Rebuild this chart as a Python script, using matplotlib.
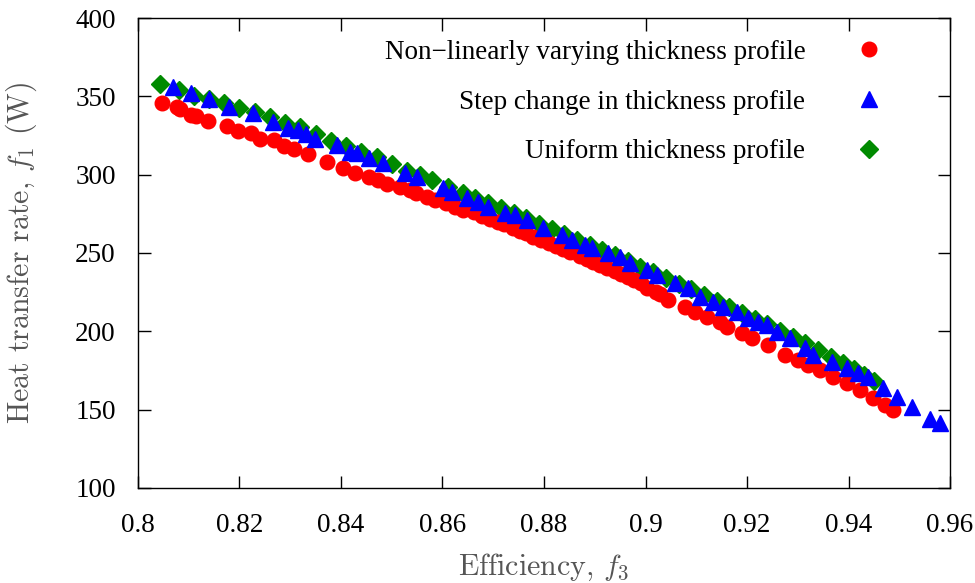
import matplotlib
matplotlib.use("Agg")
import matplotlib.pyplot as plt
from matplotlib.lines import Line2D

# Non-linearly varying thickness profile
red_x = [0.80473, 0.80768, 0.80828, 0.81044, 0.81143, 0.81379, 0.81754, 0.81970, 0.82227, 0.82404,
         0.82680, 0.82877, 0.83074, 0.83350, 0.83724, 0.84039, 0.84276, 0.84552, 0.84729, 0.84906,
         0.85163, 0.85360, 0.85478, 0.85695, 0.85852, 0.86069, 0.86246, 0.86404, 0.86621, 0.86778,
         0.86936, 0.87094, 0.87212, 0.87389, 0.87527, 0.87645, 0.87783, 0.87941, 0.88098, 0.88236,
         0.88374, 0.88512, 0.88709, 0.88847, 0.88966, 0.89103, 0.89241, 0.89399, 0.89517, 0.89655,
         0.89773, 0.89911, 0.90030, 0.90207, 0.90286, 0.90443, 0.90778, 0.90975, 0.91212, 0.91468,
         0.91606, 0.91901, 0.92099, 0.92414, 0.92749, 0.93005, 0.93202, 0.93439, 0.93695, 0.93970,
         0.94227, 0.94483, 0.94719, 0.94877]
red_y = [345.7, 343.1, 341.9, 338.1, 337.4, 334.3, 330.9, 327.9, 326.6, 322.8,
         322.1, 318.3, 316.4, 313.2, 308.1, 304.3, 301.1, 298.5, 296.6, 294.0,
         292.1, 290.2, 288.3, 285.7, 283.8, 281.9, 279.4, 277.4, 276.2, 273.6,
         271.7, 269.8, 268.5, 266.0, 264.0, 262.8, 260.2, 258.3, 256.4, 254.5,
         252.6, 250.6, 248.1, 246.2, 244.3, 242.3, 240.4, 238.5, 236.6, 234.7,
         232.8, 230.9, 227.7, 225.1, 223.8, 220.0, 215.5, 212.3, 209.1, 206.0,
         202.8, 198.9, 195.7, 191.3, 184.9, 181.7, 178.5, 175.3, 170.9, 167.0,
         162.6, 157.4, 153.0, 149.8]

# Step change in thickness profile
blue_x = [0.80683, 0.81044, 0.81405, 0.81793, 0.82260, 0.82654, 0.82962, 0.83147, 0.83310, 0.83488,
          0.83927, 0.84177, 0.84309, 0.84558, 0.84833, 0.85261, 0.85492, 0.86016, 0.86181, 0.86477,
          0.86705, 0.86902, 0.87231, 0.87429, 0.87659, 0.87986, 0.88349, 0.88546, 0.88808, 0.88940,
          0.89267, 0.89498, 0.89695, 0.90024, 0.90221, 0.90581, 0.90843, 0.91074, 0.91336, 0.91533,
          0.91797, 0.92026, 0.92223, 0.92388, 0.92585, 0.92847, 0.93143, 0.93306, 0.93669, 0.93964,
          0.94193, 0.94390, 0.94686, 0.94950, 0.95245, 0.95606, 0.95803]
blue_y = [356.2, 351.9, 348.1, 343.4, 339.6, 333.8, 329.6, 328.5, 326.0, 322.8,
          319.0, 314.7, 313.6, 310.4, 307.3, 300.9, 298.7, 291.3, 289.1, 284.9,
          282.7, 279.6, 275.3, 274.3, 271.1, 265.8, 261.5, 258.3, 255.1, 253.0,
          249.8, 247.6, 243.4, 239.1, 236.0, 230.7, 227.5, 222.1, 218.9, 215.7,
          212.5, 208.3, 206.1, 204.0, 199.8, 195.5, 189.2, 184.9, 180.6, 176.4,
          173.2, 171.0, 163.6, 158.3, 151.9, 143.9, 141.3]

# Uniform thickness profile
green_x = [0.8043, 0.8080, 0.8110, 0.8140, 0.8170, 0.8200, 0.8230, 0.8260, 0.8290, 0.8320,
           0.8350, 0.8380, 0.8410, 0.8440, 0.8470, 0.8500, 0.8530, 0.8555, 0.8580, 0.8610,
           0.8640, 0.8665, 0.8690, 0.8715, 0.8740, 0.8765, 0.8790, 0.8815, 0.8840, 0.8865,
           0.8890, 0.8915, 0.8940, 0.8965, 0.8990, 0.9015, 0.9040, 0.9065, 0.9090, 0.9115,
           0.9140, 0.9165, 0.9190, 0.9215, 0.9240, 0.9265, 0.9290, 0.9315, 0.9340, 0.9365,
           0.9390, 0.9410, 0.9430, 0.9450]
green_y = [357.9, 353.8, 350.4, 348.6, 345.5, 342.7, 340.1, 336.6, 333.0, 330.2,
           326.0, 321.5, 318.2, 314.6, 311.3, 306.5, 302.4, 299.6, 296.3, 292.0,
           288.5, 285.4, 282.1, 278.9, 275.7, 272.4, 268.6, 265.3, 262.0, 258.4,
           255.2, 251.6, 248.4, 244.6, 241.3, 237.9, 234.2, 230.5, 226.8, 223.0,
           219.5, 215.8, 211.8, 208.0, 204.4, 200.5, 196.5, 192.4, 188.2, 183.8,
           179.6, 176.1, 172.3, 168.4]

labels = ["Non\u2212linearly varying thickness profile",
          "Step change in thickness profile",
          "Uniform thickness profile"]
x_ticks = [0.8, 0.82, 0.84, 0.86, 0.88, 0.9, 0.92, 0.94, 0.96]
x_tick_labels = ["0.8", "0.82", "0.84", "0.86", "0.88", "0.9", "0.92", "0.94", "0.96"]
y_ticks = [100, 150, 200, 250, 300, 350, 400]

plt.rcParams['mathtext.fontset'] = 'cm'
plt.rcParams['font.family'] = ['Liberation Serif', 'DejaVu Serif']

fig = plt.figure(figsize=(9.75, 5.83), dpi=100)
ax = fig.add_axes([0.1415, 0.163, 0.8329, 0.8061])

ax.plot(green_x, green_y, linestyle='none', marker='D', markersize=9, color='#008a00', zorder=2)
ax.plot(red_x, red_y, linestyle='none', marker='o', markersize=10.5, color='#ff0000', zorder=3)
ax.plot(blue_x, blue_y, linestyle='none', marker='^', markersize=11.5, color='#0000ff', zorder=4)

ax.set_xlim(0.8, 0.96)
ax.set_ylim(100, 400)
ax.set_xticks(x_ticks)
ax.set_xticklabels(x_tick_labels)
ax.set_yticks(y_ticks)
ax.tick_params(direction='in', length=9, width=1, top=True, right=True, labelsize=19.5)
ax.tick_params(axis='x', pad=18)
ax.tick_params(axis='y', pad=16)
for s in ax.spines.values():
    s.set_linewidth(1.0)

ax.set_xlabel(r"Efficiency, $f_3$", fontfamily='cmr10', fontsize=21.5, color='#555555', labelpad=10)
ax.set_ylabel(r"Heat transfer rate, $f_1$ (W)", fontfamily='cmr10', fontsize=21.5, color='#555555', labelpad=26)

handles = [Line2D([], [], linestyle='none', marker='o', markersize=10.5, color='#ff0000'),
           Line2D([], [], linestyle='none', marker='^', markersize=11.5, color='#0000ff'),
           Line2D([], [], linestyle='none', marker='D', markersize=9, color='#008a00')]
leg = ax.legend(handles, labels, loc='upper right', frameon=False, markerfirst=False,
                fontsize=19.5, labelspacing=0.92, handletextpad=1.35, borderaxespad=0.0,
                bbox_to_anchor=(0.947, 0.977))
for t in leg.get_texts():
    t.set_ha('right')

fig.savefig("out.png", dpi=100)
